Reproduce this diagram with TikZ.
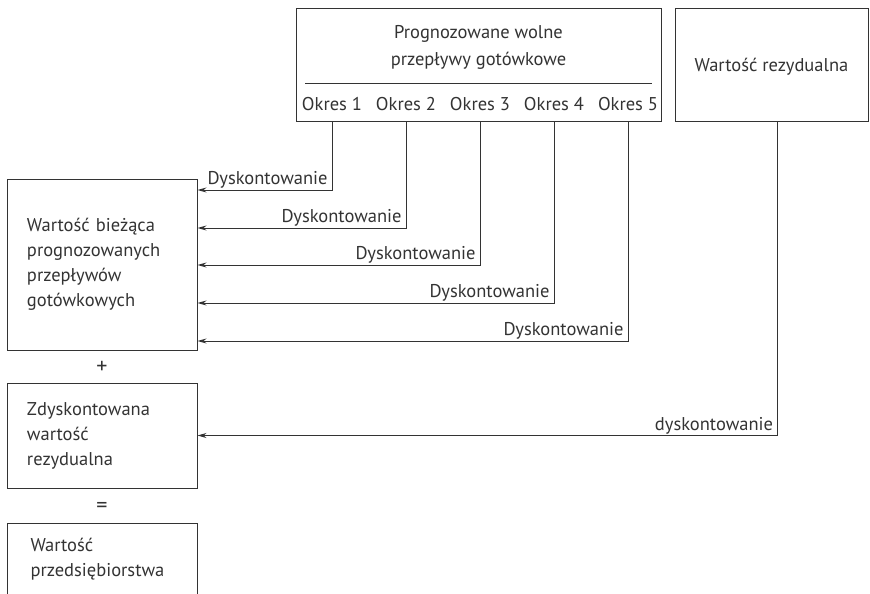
\documentclass[tikz,border=0pt]{standalone}
\usepackage{fontspec}
\setmainfont{PT Sans}
\usetikzlibrary{arrows.meta}
\definecolor{ink}{HTML}{333333}
\begin{document}
\begin{tikzpicture}[x=1pt,y=-1pt,
  every node/.style={text=ink, font=\fontsize{18.5}{25}\selectfont},
  box/.style={draw=ink, line width=1pt, rectangle, inner sep=0pt},
  leftbox/.style={box, minimum width=190, text width=150, inner xsep=20pt, align=left},
  lab/.style={anchor=south east, inner xsep=4pt, inner ysep=1pt},
  sign/.style={font=\fontsize{22}{25}\selectfont},
  arr/.style={draw=ink, line width=1pt, -{Stealth[length=9pt, width=5pt]}},
  conn/.style={draw=ink, line width=1pt}]
\useasboundingbox (0,0) rectangle (870,594);
\clip (0,0) rectangle (870,594);

% forecast box with periods
\node[box, minimum width=365, minimum height=112] (fcf) at (478.5,65) {};
\node[align=center, font=\fontsize{18.5}{27}\selectfont] (title) at (478.5,47)
  {Prognozowane wolne\\przepływy gotówkowe};
\coordinate (sepL) at (305,83);
\coordinate (sepR) at (652,83);
\draw[conn] (sepL) -- (sepR);
\node (o1) at (332,104) {Okres 1};
\node (o2) at (406,104) {Okres 2};
\node (o3) at (480,104) {Okres 3};
\node (o4) at (554,104) {Okres 4};
\node (o5) at (628,104) {Okres 5};

% residual value box
\node[box, minimum width=193, minimum height=112] (res) at (771.5,65) {};
\node (rest) at (771.5,67) {Wartość rezydualna};

% left column
\node[leftbox, minimum height=171] (pv) at (102,264.5)
  {Wartość bieżąca\\prognozowanych\\przepływów\\gotówkowych};
\node[sign] (plus) at (102,367) {+};
\node[leftbox, minimum height=105] (rv) at (102,435.5)
  {Zdyskontowana\\wartość\\rezydualna};
\node[sign] (eq) at (102,507) {=};
\node[box, minimum width=190, minimum height=120] (ev) at (102,583) {};
\node[anchor=north west, align=left] (evt) at (27,535)
  {Wartość\\przedsiębiorstwa};

% discounting connectors
\coordinate (in1) at (pv.east |- 0,190);
\coordinate (in2) at (pv.east |- 0,228);
\coordinate (in3) at (pv.east |- 0,265);
\coordinate (in4) at (pv.east |- 0,303);
\coordinate (in5) at (pv.east |- 0,341);
\draw[arr] (o1 |- fcf.south) |- node[lab, pos=0.5] {Dyskontowanie} (in1);
\draw[arr] (o2 |- fcf.south) |- node[lab, pos=0.5] {Dyskontowanie} (in2);
\draw[arr] (o3 |- fcf.south) |- node[lab, pos=0.5] {Dyskontowanie} (in3);
\draw[arr] (o4 |- fcf.south) |- node[lab, pos=0.5] {Dyskontowanie} (in4);
\draw[arr] (o5 |- fcf.south) |- node[lab, pos=0.5] {Dyskontowanie} (in5);
\draw[arr] ([xshift=6pt]res.south) |- node[lab, pos=0.5] {dyskontowanie} (rv.east);
\end{tikzpicture}
\end{document}
